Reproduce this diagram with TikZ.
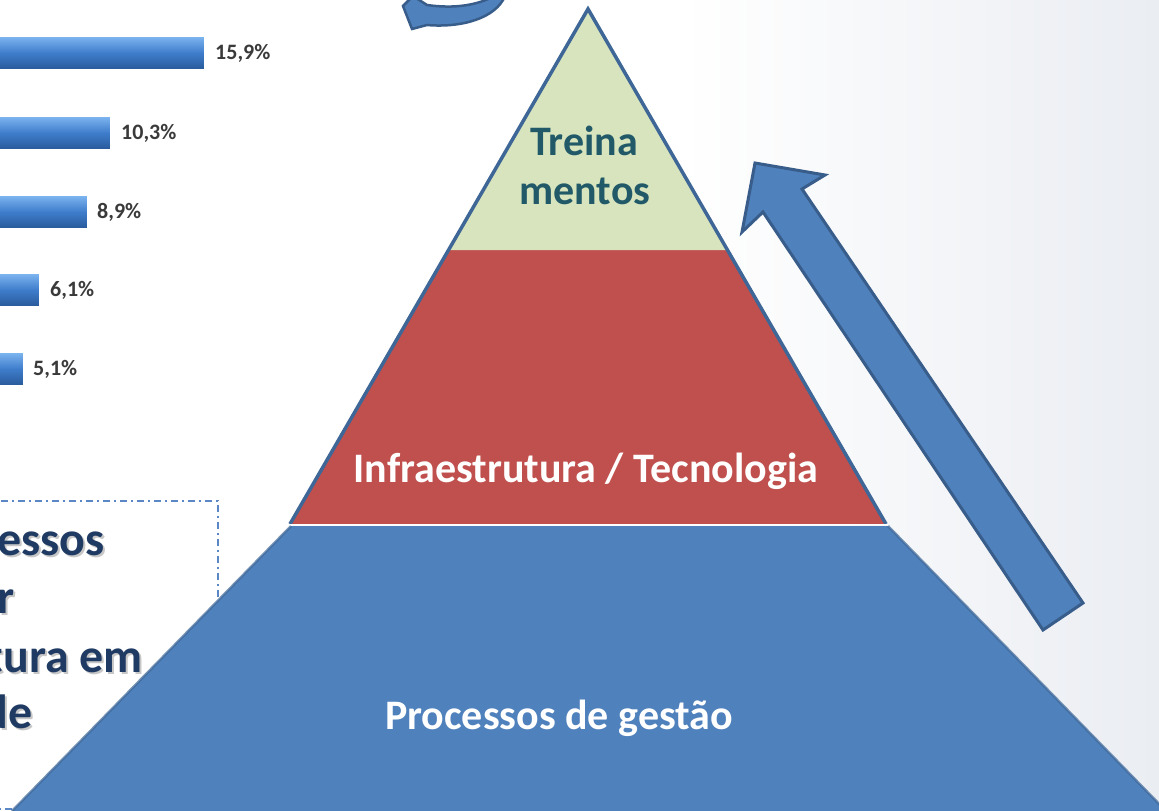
\documentclass[tikz,border=0pt]{standalone}
\usepackage{fontspec}
\setmainfont{Carlito}
\usepackage{xcolor}
\usepackage{tikz}
\usetikzlibrary{positioning,calc}

\definecolor{pyrGreen}{HTML}{D7E4BD}
\definecolor{pyrRed}{HTML}{C0504D}
\definecolor{pyrBlue}{HTML}{4F81BD}
\definecolor{pyrEdge}{HTML}{3E6797}
\definecolor{arrowEdge}{HTML}{385D8A}
\definecolor{treinaText}{HTML}{215968}
\definecolor{boxText}{HTML}{1F3B63}
\definecolor{boxDash}{HTML}{5B87C7}
\definecolor{barTop}{HTML}{7AB2EE}
\definecolor{barMid}{HTML}{3E7CCB}
\definecolor{barBot}{HTML}{2A5C9C}
\definecolor{barText}{HTML}{3A3A3A}
\definecolor{bgGray}{HTML}{EAEDF2}

\begin{document}
\begin{tikzpicture}[
    x=1pt, y=-1pt,
    bar/.style={rectangle, inner sep=0pt, minimum height=31pt, anchor=east,
        top color=barTop, bottom color=barBot, middle color=barMid},
    barlabel/.style={font=\bfseries\fontsize{22}{25}\selectfont, text=barText, inner sep=0pt},
    layertext/.style={font=\bfseries\fontsize{42}{50}\selectfont, inner sep=0pt, anchor=base},
    boxtext/.style={font=\bfseries\fontsize{48}{56}\selectfont, text=boxText, inner sep=0pt, anchor=base east},
    boxshadow/.style={boxtext, text=black!40, opacity=.55},
    blockarrow/.style={fill=pyrBlue, draw=arrowEdge, line width=3pt, line join=miter}
]
    \useasboundingbox (0,0) rectangle (1159,811);
    \clip (0,0) rectangle (1159,811);

    % background
    \fill[white] (0,0) rectangle (1159,811);
    \shade[left color=white, right color=bgGray] (680,0) rectangle (1159,811);

    % chart bars
    \node[bar, minimum width=224pt] (b1) at (204,53) {};
    \node[bar, minimum width=130pt] (b2) at (110,133) {};
    \node[bar, minimum width=107pt] (b3) at (87,212) {};
    \node[bar, minimum width=59pt] (b4) at (39,290) {};
    \node[bar, minimum width=43pt] (b5) at (23,369) {};
    \node[barlabel, right=11pt of b1] (l1) {15,9\%};
    \node[barlabel, right=11pt of b2] (l2) {10,3\%};
    \node[barlabel, right=10pt of b3] (l3) {8,9\%};
    \node[barlabel, right=11pt of b4] (l4) {6,1\%};
    \node[barlabel, right=10pt of b5] (l5) {5,1\%};

    % text box
    \draw[boxDash, line width=1.5pt, dash pattern=on 7pt off 4pt on 2pt off 4pt]
        (-10,501) rectangle (218,809);
    \node[boxshadow] (essos-sh) at (107,557) {essos};
    \node[boxshadow] (r-sh) at (17,615) {r};
    \node[boxshadow] (tura-sh) at (145,674) {tura em};
    \node[boxshadow] (de-sh) at (35,730) {de};
    \node[boxtext] (essos) at (105,555) {essos};
    \node[boxtext] (r) at (15,613) {r};
    \node[boxtext] (tura) at (143,672) {tura em};
    \node[boxtext] (de) at (33,728) {de};

    % pyramid
    \coordinate (apex) at (588,9);
    \coordinate (gL) at (448.5,250);
    \coordinate (gR) at (727.5,250);
    \coordinate (baseL) at (290,524);
    \coordinate (baseR) at (886,524);
    \coordinate (footL) at (291,526);
    \coordinate (footR) at (888,526);
    \coordinate (bottomL) at (12,811);
    \coordinate (bottomR) at (1166,811);

    \fill[pyrBlue] (footL) -- (footR) -- (bottomR) -- (bottomL) -- cycle;
    \draw[pyrEdge, line width=2.5pt, opacity=.7] (footL) -- (bottomL);
    \draw[pyrEdge, line width=2.5pt, opacity=.7] (footR) -- (bottomR);
    \fill[pyrRed] (baseL) -- (gL) -- (gR) -- (baseR) -- cycle;
    \fill[pyrGreen] (gL) -- (apex) -- (gR) -- cycle;
    \draw[pyrEdge, line width=3.5pt, line join=miter] (baseL) -- (apex) -- (baseR);
    \draw[white, line width=1pt] (baseL) -- (footR |- baseR);

    \node[layertext, text=treinaText] (treina) at (584,155) {Treina};
    \node[layertext, text=treinaText] (mentos) at (585,204) {mentos};
    \node[layertext, text=white] (infra) at (586,482) {Infraestrutura / Tecnologia};
    \node[layertext, text=white] (gestao) at (559,729) {Processos de gestão};

    % big arrow up
    \coordinate (tip) at (755,163);
    \coordinate (headR) at (825,175);
    \coordinate (shaftR) at (802,189);
    \coordinate (tailR) at (1083,603);
    \coordinate (tailL) at (1043,630);
    \coordinate (shaftL) at (763,212);
    \coordinate (headL) at (742,232);
    \draw[blockarrow] (tip) -- (headR) -- (shaftR) -- (tailR) -- (tailL) -- (shaftL) -- (headL) -- cycle;

    % curved arrow (cut at top)
    \draw[blockarrow, line width=2.5pt] (505,-4) .. controls (496,18) and (462,28) .. (427,25)
        -- (412,29) -- (403,6) -- (413,-4) -- (427,5)
        .. controls (455,9) and (478,5) .. (494,-4) -- cycle;
\end{tikzpicture}
\end{document}
